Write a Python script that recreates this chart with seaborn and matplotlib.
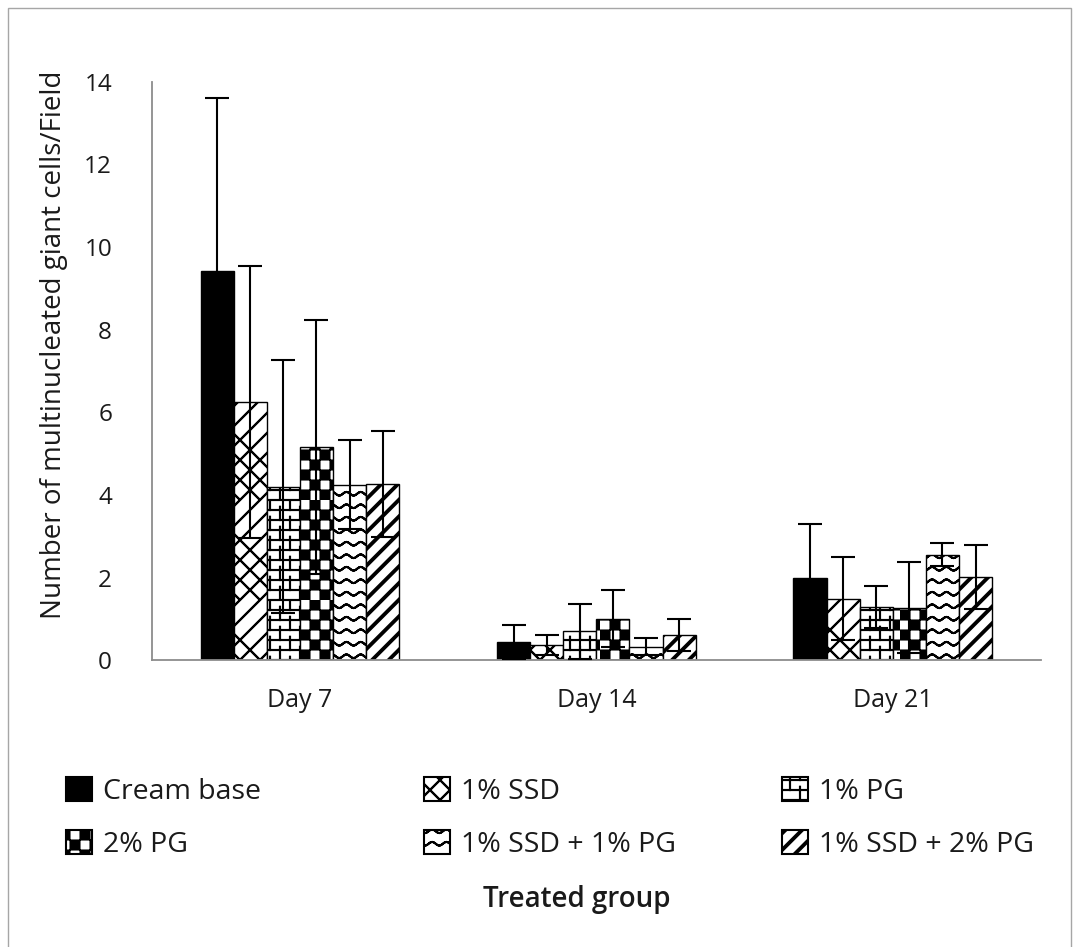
import warnings
warnings.filterwarnings("ignore")

import numpy as np
import pandas as pd
import matplotlib
matplotlib.use("Agg")
import matplotlib.pyplot as plt
import matplotlib.hatch as mhatch
import matplotlib.patches as mpatches
from matplotlib.path import Path
import seaborn as sns


# -------------------------------------------------
# DATA
# -------------------------------------------------
days = ["Day 7", "Day 14", "Day 21"]
groups = ["Cream base", "1% SSD", "1% PG", "2% PG", "1% SSD + 1% PG", "1% SSD + 2% PG"]

cream_base = [9.43, 0.44, 1.99]
ssd_1 = [6.26, 0.38, 1.49]
pg_1 = [4.20, 0.70, 1.30]
pg_2 = [5.16, 1.00, 1.27]
ssd_1_pg_1 = [4.25, 0.33, 2.56]
ssd_1_pg_2 = [4.27, 0.61, 2.01]

cream_base_sd = [4.17, 0.41, 1.31]
ssd_1_sd = [3.29, 0.24, 1.01]
pg_1_sd = [3.06, 0.66, 0.51]
pg_2_sd = [3.08, 0.69, 1.10]
ssd_1_pg_1_sd = [1.07, 0.21, 0.27]
ssd_1_pg_2_sd = [1.29, 0.38, 0.77]

y_ticks = [0, 2, 4, 6, 8, 10, 12, 14]

W, H = 1079, 947


# -------------------------------------------------
# Excel-like fill patterns as custom hatches
# -------------------------------------------------
MOVETO, LINETO, CLOSE = Path.MOVETO, Path.LINETO, Path.CLOSEPOLY


def segments(lines):
    # trace each line out and back so it has no fill area, only the stroke
    verts, codes = [], []
    for pts in lines:
        pts = [tuple(p) for p in pts]
        path = pts + pts[::-1][1:]
        verts += path
        codes += [MOVETO] + [LINETO] * (len(path) - 1)
    return verts, codes


def polygons(polys):
    verts, codes = [], []
    for pts in polys:
        verts += list(pts) + [pts[0]]
        codes += [MOVETO] + [LINETO] * (len(pts) - 1) + [CLOSE]
    return verts, codes


class TileHatch(mhatch.HatchPatternBase):
    char = None

    def __init__(self, hatch, density):
        if self.char in hatch:
            v, c = self.build()
            self.verts = np.asarray(v, float)
            self.codes = np.asarray(c, dtype=Path.code_type)
        else:
            self.verts = np.empty((0, 2))
            self.codes = np.empty(0, dtype=Path.code_type)
        self.num_vertices = len(self.verts)

    def set_vertices_and_codes(self, vertices, codes):
        vertices[:] = self.verts
        codes[:] = self.codes


class CheckerHatch(TileHatch):
    char = "o"

    def build(self):
        n, e = 10, 0.005
        squares = []
        for i in range(n):
            for j in range(n):
                if (i + j) % 2 == 0:
                    x0, y0 = i / n + e, j / n + e
                    x1, y1 = (i + 1) / n - e, (j + 1) / n - e
                    squares.append([(x0, y0), (x1, y0), (x1, y1), (x0, y1)])
        return polygons(squares)


class BrickHatch(TileHatch):
    char = "+"

    def build(self):
        rows, per_row = 10, 5
        lines = [[(0, k / rows), (1, k / rows)] for k in range(rows + 1)]
        for k in range(rows):
            shift = 0.5 * (k % 2)
            for m in range(per_row + 1):
                x = (m + shift) / per_row
                lines.append([(x, k / rows), (x, (k + 1) / rows)])
        return segments(lines)


class WaveHatch(TileHatch):
    char = "."

    def build(self):
        rows, waves, amp = 8, 7, 0.018
        xs = np.linspace(0, 1, waves * 16 + 1)
        lines = []
        for k in range(rows):
            y = (k + 0.5) / rows
            lines.append(list(zip(xs, y + amp * np.sin(2 * np.pi * waves * xs))))
        return segments(lines)


class WeaveHatch(TileHatch):
    char = "x"

    def build(self):
        n = 5
        lines = []
        for k in range(-n, n + 1):
            c = k / n
            lines.append([(0, c), (1, 1 + c)])
            lines.append([(0, c), (1, c - 1)])
        return segments(lines)


class BandHatch(TileHatch):
    char = "/"

    def build(self):
        n, w = 6, 0.025
        polys = []
        for k in range(-n, n + 1):
            c = k / n
            polys.append([(-1, -1 + c), (2, 2 + c), (2, 2 + c + w), (-1, -1 + c + w)])
        return polygons(polys)


mhatch._hatch_types[:] = [CheckerHatch, BrickHatch, WaveHatch, WeaveHatch, BandHatch]


# -------------------------------------------------
# STYLE
# -------------------------------------------------
sns.set_style("white")
plt.rcParams["font.family"] = ["Open Sans", "DejaVu Sans"]
plt.rcParams["hatch.linewidth"] = 1.5
plt.rcParams["hatch.color"] = "black"

face_colors = {g: ("black" if g == "Cream base" else "white") for g in groups}
hatches = {
    "Cream base": None,
    "1% SSD": "x",
    "1% PG": "+",
    "2% PG": "o",
    "1% SSD + 1% PG": ".",
    "1% SSD + 2% PG": "/",
}
axis_grey = "#8c8c8c"
text_col = "#1a1a1a"


# -------------------------------------------------
# LONG TABLE
# -------------------------------------------------
means = dict(zip(groups, [cream_base, ssd_1, pg_1, pg_2, ssd_1_pg_1, ssd_1_pg_2]))
sds = dict(zip(groups, [cream_base_sd, ssd_1_sd, pg_1_sd, pg_2_sd, ssd_1_pg_1_sd, ssd_1_pg_2_sd]))

rows = []
for g in groups:
    for d, m, s in zip(days, means[g], sds[g]):
        rows.append({"day": d, "group": g, "mean": m, "sd": s})
df = pd.DataFrame(rows)


# -------------------------------------------------
# PLOT
# -------------------------------------------------
fig = plt.figure(figsize=(W / 100, H / 100), dpi=100)
ax = fig.add_axes([151.7 / W, 1 - 660.3 / H, (1041 - 151.7) / W, (660.3 - 81.8) / H])

sns.barplot(
    data=df, x="day", y="mean", hue="group",
    order=days, hue_order=groups, palette=face_colors,
    edgecolor="black", linewidth=1.0, width=0.67, gap=0,
    errorbar=None, legend=False, ax=ax,
)

# bars sorted left to right: day-major, group-minor
bars = sorted(ax.patches, key=lambda p: p.get_x())
centers, heights, errs = [], [], []
for k, bar in enumerate(bars):
    day, g = days[k // len(groups)], groups[k % len(groups)]
    row = df[(df["day"] == day) & (df["group"] == g)].iloc[0]
    if hatches[g]:
        bar.set_hatch(hatches[g])
    centers.append(bar.get_x() + bar.get_width() / 2)
    heights.append(row["mean"])
    errs.append(row["sd"])

ax.errorbar(centers, heights, yerr=errs, fmt="none", ecolor="black",
            elinewidth=1.5, capsize=8.5, capthick=1.5, zorder=5)

ax.set_xlim(-0.5, len(days) - 0.5)
ax.set_ylim(0, 14)
ax.set_yticks(y_ticks)
ax.set_yticklabels([str(t) for t in y_ticks])
ax.set_xlabel("")
ax.set_ylabel("Number of multinucleated giant cells/Field", fontsize=20, color=text_col)
ax.yaxis.set_label_coords(-0.094, 0.545)

for side in ["top", "right"]:
    ax.spines[side].set_visible(False)
for side in ["left", "bottom"]:
    ax.spines[side].set_color(axis_grey)
    ax.spines[side].set_linewidth(1.3)

ax.tick_params(axis="y", direction="out", length=8.5, width=1.3, color=axis_grey,
               labelsize=17.5, pad=20, labelcolor=text_col)
ax.tick_params(axis="x", length=0, labelsize=18, pad=20, labelcolor=text_col)


# -------------------------------------------------
# LEGEND (three columns, row-wise order)
# -------------------------------------------------
def legend_column(items, x_px):
    handles = [
        mpatches.Patch(facecolor=face_colors[g], edgecolor="black",
                       hatch=hatches[g], linewidth=1.5)
        for g in items
    ]
    leg = fig.legend(
        handles, items, loc="upper left",
        bbox_to_anchor=(x_px / W, 1 - 777 / H),
        frameon=False, fontsize=20.5, handlelength=0.91, handleheight=0.91,
        handletextpad=0.4, labelspacing=0.85, borderpad=0, borderaxespad=0,
    )
    for t in leg.get_texts():
        t.set_color(text_col)
    return leg


legend_column(["Cream base", "2% PG"], 66)
legend_column(["1% SSD", "1% SSD + 1% PG"], 424)
legend_column(["1% PG", "1% SSD + 2% PG"], 781.7)

fig.text(577 / W, 1 - 900 / H, "Treated group", ha="center", va="center",
         fontsize=20, fontweight="semibold", color=text_col)

# light chart-area border
fig.add_artist(mpatches.Rectangle(
    (8 / W, -0.01), (1071 - 8) / W, 1 - 8 / H + 0.01,
    transform=fig.transFigure, fill=False, edgecolor="#a6a6a6", linewidth=1.0,
))

fig.savefig("out.png", dpi=100)
